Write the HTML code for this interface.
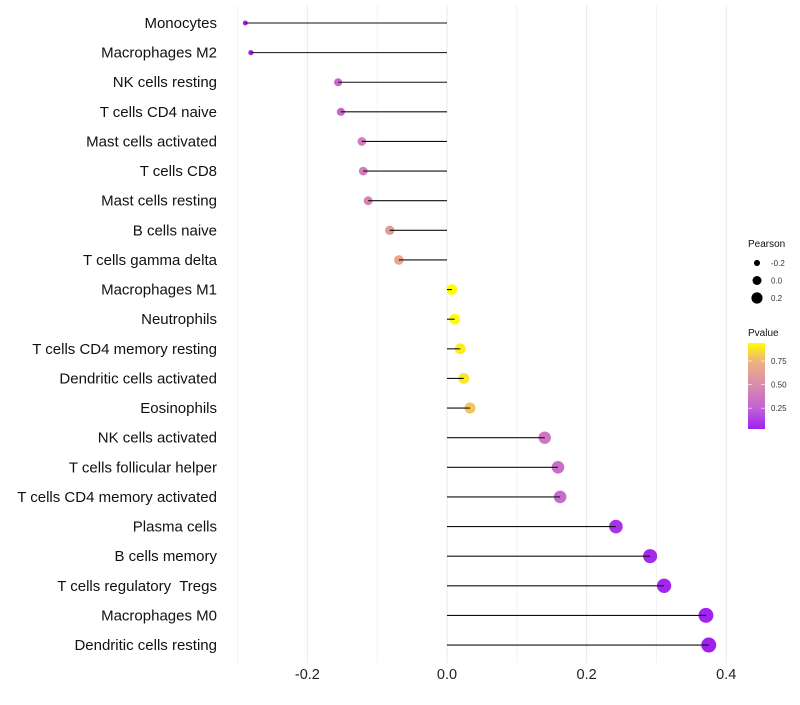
<!DOCTYPE html>
<html><head><meta charset="utf-8"><style>
body{margin:0;background:#fff;font-family:"Liberation Sans",sans-serif}
svg text{font-family:"Liberation Sans",sans-serif;white-space:pre}
</style></head><body>
<svg id="c" width="800" height="700"></svg>
<script>
const categories=["Monocytes","Macrophages M2","NK cells resting","T cells CD4 naive","Mast cells activated","T cells CD8","Mast cells resting","B cells naive","T cells gamma delta","Macrophages M1","Neutrophils","T cells CD4 memory resting","Dendritic cells activated","Eosinophils","NK cells activated","T cells follicular helper","T cells CD4 memory activated","Plasma cells","B cells memory","T cells regulatory  Tregs","Macrophages M0","Dendritic cells resting"];
const pearson=[-0.289,-0.281,-0.156,-0.152,-0.122,-0.120,-0.113,-0.082,-0.069,0.007,0.011,0.019,0.024,0.033,0.140,0.159,0.162,0.242,0.291,0.311,0.371,0.375];
const pvalue=[0.05,0.06,0.30,0.30,0.42,0.42,0.45,0.60,0.68,0.94,0.93,0.90,0.88,0.80,0.38,0.33,0.32,0.10,0.07,0.06,0.05,0.04];
const xTicks=[-0.2,0,0.2,0.4];
const xMinor=[-0.3,-0.1,0.1,0.3];
const sizeLegend=[-0.2,0,0.2];
const colorTicks=[0.25,0.5,0.75];
const NS="http://www.w3.org/2000/svg",svg=document.getElementById('c');
function mk(t,a,p){const e=document.createElementNS(NS,t);for(const k in a)e.setAttribute(k,a[k]);(p||svg).appendChild(e);return e;}
const X=v=>447+v*698, Y=i=>23+i*29.62;
const R=v=>Math.sqrt(Math.max(3,28+75*v));
const stops=[[0.04,[160,32,240]],[0.25,[192,96,216]],[0.5,[218,140,170]],[0.75,[238,178,128]],[0.94,[255,255,0]]];
function col(p){if(p<=stops[0][0])return`rgb(${stops[0][1]})`;for(let i=1;i<stops.length;i++){if(p<=stops[i][0]){const a=stops[i-1],b=stops[i],t=(p-a[0])/(b[0]-a[0]);return`rgb(${a[1].map((c,j)=>Math.round(c+(b[1][j]-c)*t))})`;}}return`rgb(${stops[stops.length-1][1]})`;}
const grid=mk('g',{});
xMinor.forEach(v=>mk('line',{x1:X(v),x2:X(v),y1:5,y2:663,stroke:'#f3f3f3','stroke-width':1},grid));
xTicks.forEach(v=>mk('line',{x1:X(v),x2:X(v),y1:5,y2:663,stroke:'#ebebeb','stroke-width':1.1},grid));
xTicks.forEach(v=>{const t=mk('text',{x:X(v),y:679,'text-anchor':'middle','font-size':14.5,fill:'#222'});t.textContent=v===0?'0.0':v.toFixed(1);

});
categories.forEach((c,i)=>{
const t=mk('text',{x:217,y:Y(i)+5,'text-anchor':'end','font-size':15,fill:'#111'});t.textContent=c;


const d=mk('circle',{cx:X(pearson[i]),cy:Y(i),r:R(pearson[i]),fill:col(pvalue[i])});


const l=mk('line',{x1:X(0),x2:X(pearson[i]),y1:Y(i),y2:Y(i),stroke:'#111','stroke-width':1.1});


});
const lt=mk('text',{x:748,y:247,'font-size':10,fill:'#111'});lt.textContent='Pearson';


sizeLegend.forEach((v,i)=>{const y=263+i*17.5;
const c=mk('circle',{cx:757,cy:y,r:R(v)*0.85,fill:'#000'});


const t=mk('text',{x:771,y:y+3,'font-size':8,fill:'#333'});t.textContent=v===0?'0.0':v.toFixed(1);

});
const pt=mk('text',{x:748,y:336,'font-size':10,fill:'#111'});pt.textContent='Pvalue';


const defs=mk('defs',{});const g=mk('linearGradient',{id:'gr',x1:0,y1:1,x2:0,y2:0},defs);
stops.forEach(s=>mk('stop',{offset:(s[0]-0.04)/0.9,'stop-color':`rgb(${s[1]})`},g));
const bar=mk('rect',{x:748,y:343,width:17,height:86,fill:'url(#gr)'});


const PY=p=>428-(p-0.04)/0.9*85;
colorTicks.forEach(p=>{mk('line',{x1:748,x2:752,y1:PY(p),y2:PY(p),stroke:'#fff','stroke-width':0.6});mk('line',{x1:761,x2:765,y1:PY(p),y2:PY(p),stroke:'#fff','stroke-width':0.6});
const t=mk('text',{x:771,y:PY(p)+3,'font-size':8,fill:'#333'});t.textContent=p.toFixed(2);

});
</script>
</body></html>
